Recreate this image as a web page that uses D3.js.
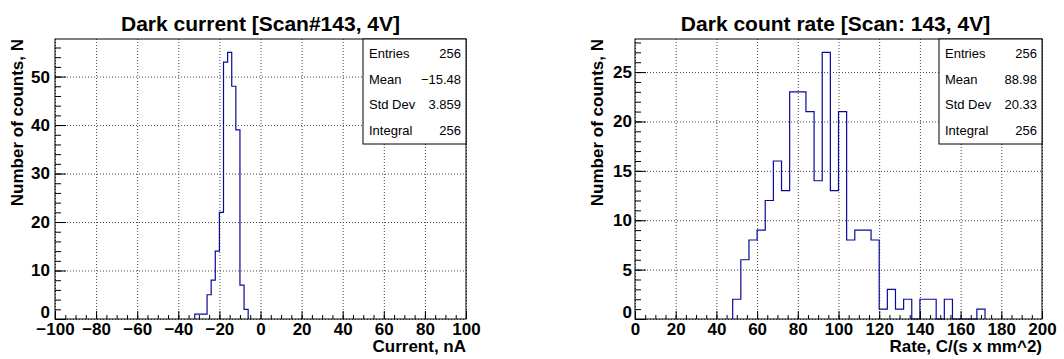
<!DOCTYPE html>
<html>
<head>
<meta charset="utf-8">
<script src="https://cdn.jsdelivr.net/npm/d3@7"></script>
<style>
  body { margin: 0; background: #fff; }
  svg { display: block; font-family: "Liberation Sans", Arial, sans-serif; }
  .grid line { stroke: #444; stroke-dasharray: 1,2; }
  .grid path, .minor path, .major path { display: none; }
  .major text { font-weight: bold; font-size: 17px; fill: #000; }
  .major line, .minor line { stroke: #000; }
</style>
</head>
<body>
<svg id="chart" width="1064" height="359"></svg>
<script>
// left: dark current, 2 nA bins
var currentBinStarts = [-32, -30, -28, -26, -24, -22, -20, -18, -16, -14, -12, -10, -8];
var currentCounts    = [1, 1, 1, 5, 8, 14, 22, 53, 55, 48, 39, 7, 2];
var currentBinWidth = 2;
var currentStats = [["Entries", "256"], ["Mean", "\u221215.48"], ["Std Dev", "3.859"], ["Integral", "256"]];

// right: dark count rate, 4 C/(s x mm^2) bins
var rateBinStarts = [48, 52, 56, 60, 64, 68, 72, 76, 80, 84, 88, 92, 96, 100, 104, 108, 112, 116,
                     120, 124, 128, 132, 136, 140, 144, 148, 152, 156, 160, 164, 168];
var rateCounts    = [2, 6, 8, 9, 12, 16, 13, 23, 23, 21, 14, 27, 13, 21, 8, 9, 9, 8,
                     1, 3, 1, 2, 0, 2, 2, 0, 2, 0, 0, 0, 1];
var rateBinWidth = 4;
var rateStats = [["Entries", "256"], ["Mean", "88.98"], ["Std Dev", "20.33"], ["Integral", "256"]];

var svg = d3.select("#chart");

function drawHist(cfg) {
    var x = d3.scaleLinear().domain(cfg.xDomain).range([cfg.left, cfg.right]);
    var y = d3.scaleLinear().domain([0, d3.max(cfg.counts) * 1.05]).range([cfg.bottom, cfg.top]);
    var w = cfg.right - cfg.left, h = cfg.bottom - cfg.top;

    // grid
    svg.append("g").attr("class", "grid")
        .attr("transform", "translate(0," + cfg.bottom + ")")
        .call(d3.axisBottom(x).ticks(10).tickSize(-h).tickFormat(""));
    svg.append("g").attr("class", "grid")
        .attr("transform", "translate(" + cfg.left + ",0)")
        .call(d3.axisLeft(y).ticks(6).tickSize(-w).tickFormat(""));

    // histogram outline
    var pts = [[cfg.starts[0], 0]];
    cfg.starts.forEach(function (s, i) {
        pts.push([s, cfg.counts[i]]);
        pts.push([s + cfg.binWidth, cfg.counts[i]]);
    });
    pts.push([cfg.starts[cfg.starts.length - 1] + cfg.binWidth, 0]);
    svg.append("path")
        .attr("d", d3.line().x(function (d) { return x(d[0]); }).y(function (d) { return y(d[1]); })(pts))
        .attr("fill", "none")
        .attr("stroke", "#0a0a9c")
        .attr("stroke-width", 1.2);

    // frame
    svg.append("rect")
        .attr("x", cfg.left).attr("y", cfg.top)
        .attr("width", w).attr("height", h)
        .attr("fill", "none").attr("stroke", "#000");

    // axes with inward ticks
    svg.append("g").attr("class", "minor")
        .attr("transform", "translate(0," + cfg.bottom + ")")
        .call(d3.axisBottom(x).ticks(40).tickSize(-4).tickFormat(""));
    svg.append("g").attr("class", "major")
        .attr("transform", "translate(0," + cfg.bottom + ")")
        .call(d3.axisBottom(x).ticks(10).tickSize(-8).tickPadding(4));
    svg.append("g").attr("class", "minor")
        .attr("transform", "translate(" + cfg.left + ",0)")
        .call(d3.axisLeft(y).ticks(30).tickSize(-6).tickFormat(""));
    var yAx = svg.append("g").attr("class", "major")
        .attr("transform", "translate(" + cfg.left + ",0)")
        .call(d3.axisLeft(y).ticks(6).tickSize(-11).tickPadding(cfg.yPad));
    // ROOT lifts the zero label a bit above the x labels
    yAx.selectAll(".tick text").filter(function (d) { return d === 0; }).attr("dy", "-0.1em");

    // titles
    svg.append("text")
        .attr("x", (cfg.left + cfg.right) / 2 + cfg.titleShift).attr("y", 31)
        .attr("text-anchor", "middle")
        .style("font-weight", "bold").style("font-size", "21px")
        .text(cfg.title);
    svg.append("text")
        .attr("x", cfg.right).attr("y", 352)
        .attr("text-anchor", "end")
        .style("font-weight", "bold").style("font-size", "17px")
        .text(cfg.xTitle);
    svg.append("text")
        .attr("transform", "translate(" + cfg.yTitleX + "," + cfg.top + ") rotate(-90)")
        .attr("text-anchor", "end")
        .style("font-weight", "bold").style("font-size", "17px")
        .text("Number of counts, N");

    // stats box
    var bw = 103, bx = cfg.right - bw;
    svg.append("rect")
        .attr("x", bx).attr("y", cfg.top)
        .attr("width", bw).attr("height", 105)
        .attr("fill", "#fff").attr("stroke", "#000");
    var rows = svg.append("g").selectAll("g").data(cfg.stats).enter().append("g")
        .attr("transform", function (d, i) { return "translate(0," + (cfg.top + 19 + i * 25.7) + ")"; })
        .style("font-size", "13px");
    rows.append("text").attr("x", bx + 6).text(function (d) { return d[0]; });
    rows.append("text").attr("x", cfg.right - 5).attr("text-anchor", "end").text(function (d) { return d[1]; });
}

drawHist({
    left: 55, right: 466, top: 39, bottom: 319,
    xDomain: [-100, 100],
    starts: currentBinStarts, counts: currentCounts, binWidth: currentBinWidth,
    stats: currentStats,
    title: "Dark current [Scan#143, 4V]", titleShift: 0,
    xTitle: "Current, nA",
    yTitleX: 23, yPad: 5
});

drawHist({
    left: 635, right: 1042, top: 39, bottom: 319,
    xDomain: [0, 200],
    starts: rateBinStarts, counts: rateCounts, binWidth: rateBinWidth,
    stats: rateStats,
    title: "Dark count rate [Scan: 143, 4V]", titleShift: -3,
    xTitle: "Rate, C/(s x mm^2)",
    yTitleX: 603, yPad: 3
});
</script>
</body>
</html>
